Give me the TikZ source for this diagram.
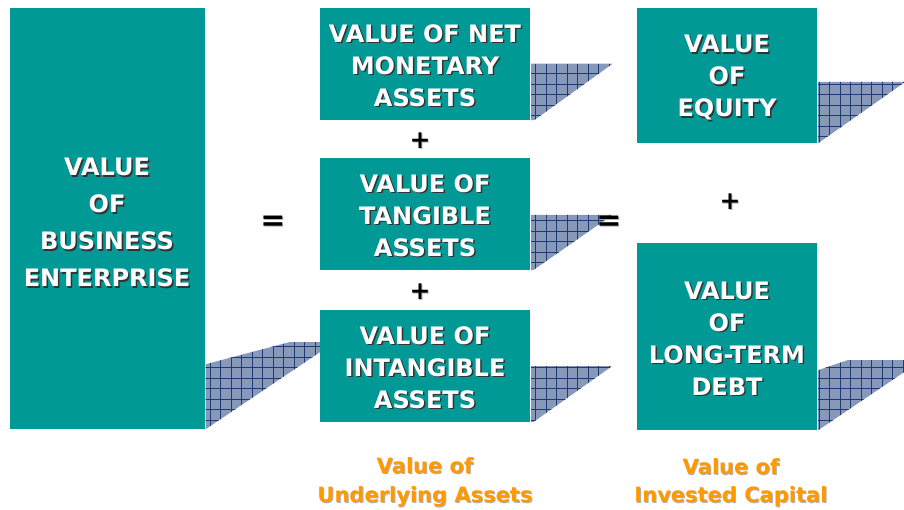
\documentclass[tikz,border=0pt]{standalone}
\usepackage{fontspec}
\setmainfont{DejaVu Sans}
\usetikzlibrary{calc,backgrounds}
\definecolor{tealbox}{RGB}{0,153,150}
\definecolor{hatchfill}{RGB}{135,152,185}
\definecolor{hatchline}{RGB}{30,60,115}
\definecolor{orangetxt}{RGB}{255,153,0}
\newcommand\sh[1]{\leavevmode\rlap{\kern1.5pt\raisebox{-1.5pt}{\textcolor{black!80}{#1}}}#1}
\newcommand\osh[1]{\leavevmode\rlap{\kern1pt\raisebox{-1pt}{\textcolor{black!30}{#1}}}#1}
\newcommand\lowerby[1]{\rule{0pt}{#1}}
\newcommand\hatchshape[1]{%
  \begin{scope}
    \clip #1;
    \fill[hatchfill] (0,0) rectangle (910,510);
    \draw[hatchline, line width=0.8pt, step=10.5pt] (0,510) grid (910,0);
  \end{scope}}
\begin{document}
\begin{tikzpicture}[x=1pt,y=-1pt,
  valbox/.style={fill=tealbox, inner sep=0pt, text=white, align=center,
    font=\bfseries\fontsize{24}{32}\selectfont},
  opsign/.style={inner sep=0pt, text=black, font=\bfseries\fontsize{25}{25}\selectfont},
  caption/.style={inner sep=0pt, text=orangetxt, align=center,
    font=\bfseries\fontsize{21}{28.5}\selectfont}]
\useasboundingbox (0,0) rectangle (904,510);

% boxes
\node[valbox, minimum width=195pt, minimum height=421pt,
  font=\bfseries\fontsize{24}{37}\selectfont] (ent) at (107,218.5)
  {\lowerby{27.5pt}\sh{VALUE}\\\sh{OF}\\\sh{BUSINESS}\\\sh{ENTERPRISE}};
\node[valbox, minimum width=210pt, minimum height=112pt] (nma) at (425,64)
  {\lowerby{22.5pt}\sh{VALUE OF NET}\\\sh{MONETARY}\\\sh{ASSETS}};
\node[valbox, minimum width=210pt, minimum height=112pt] (ta) at (425,214)
  {\lowerby{22.5pt}\sh{VALUE OF}\\\sh{TANGIBLE}\\\sh{ASSETS}};
\node[valbox, minimum width=210pt, minimum height=112pt] (ia) at (425,366)
  {\lowerby{22.5pt}\sh{VALUE OF}\\\sh{INTANGIBLE}\\\sh{ASSETS}};
\node[valbox, minimum width=180pt, minimum height=135pt] (eq) at (727,75.5)
  {\lowerby{23.5pt}\sh{VALUE}\\\sh{OF}\\\sh{EQUITY}};
\node[valbox, minimum width=180pt, minimum height=187pt] (debt) at (727,336.5)
  {\lowerby{22.5pt}\sh{VALUE}\\\sh{OF}\\\sh{LONG-TERM}\\\sh{DEBT}};

% cast shadows
\begin{scope}[on background layer]
  \hatchshape{($(ent.south east)+(1,-65)$) -- (290,342) -- (335,342) -- ($(ent.south east)+(1,0)$) -- cycle}
  \hatchshape{($(nma.east)+(1,0)$) -- ($(nma.east)+(82,0)$) -- ($(nma.south east)+(4,0)$) -- ($(nma.south east)+(1,0)$) -- cycle}
  \hatchshape{($(ta.east)+(1,1)$) -- ($(ta.east)+(82,1)$) -- ($(ta.south east)+(3,0)$) -- ($(ta.south east)+(1,0)$) -- cycle}
  \hatchshape{($(ia.east)+(1,0)$) -- ($(ia.east)+(82,0)$) -- ($(ia.south east)+(3,0)$) -- ($(ia.south east)+(1,0)$) -- cycle}
  \hatchshape{($(eq.east)+(1,6.5)$) -- (905,82) -- ($(eq.south east)+(1,0)$) -- cycle}
  \hatchshape{($(debt.south east)+(1,-60)$) -- (848,360) -- (922,360) -- ($(debt.south east)+(1,0)$) -- cycle}
\end{scope}

% operators
\node[opsign] (p1) at (420,141) {\osh{+}};
\node[opsign] (p2) at (420,292) {\osh{+}};
\node[opsign] (p3) at (730,202) {\osh{+}};
\node[opsign, font=\bfseries\fontsize{30}{30}\selectfont] (e1) at (273,224) {\osh{=}};
\node[opsign, font=\bfseries\fontsize{30}{30}\selectfont] (e2) at (609,224) {\osh{=}};

% captions
\node[caption] (cap1) at (425,483) {\osh{Value of}\\\osh{Underlying Assets}};
\node[caption] (cap2) at (731,483) {\osh{Value of}\\\osh{Invested Capital}};
\end{tikzpicture}
\end{document}
